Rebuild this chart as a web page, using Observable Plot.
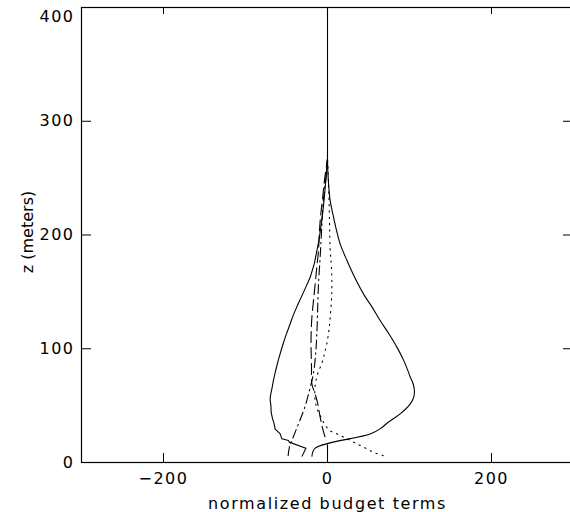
<!DOCTYPE html>
<html><head><meta charset="utf-8">
<script src="https://cdn.jsdelivr.net/npm/d3@7"></script>
<script src="https://cdn.jsdelivr.net/npm/@observablehq/plot@0.6"></script>
<style>
html,body{margin:0;padding:0;overflow:hidden;background:#fff;}
g[aria-label="y-axis tick label"] text, g[aria-label="x-axis tick label"] text{letter-spacing:1.5px;}
</style></head><body><div id="chart"></div>
<script>
// tick values
const xTicks = [-200, 0, 200];
const yTicks = [0, 100, 200, 300, 400];
const yTickLabelsLow = [0, 100, 200, 300];
const yTickLabelTop = [400];
const xTitle = "normalized budget terms";
const yTitle = "z (meters)";

// solid curve, negative lobe (continues along zero to the top)
const zSolidL = [5.6, 12.6, 17.9, 19.3, 20.8, 25.2, 29.6, 34, 38.4, 44, 50, 55, 59, 66, 72, 80, 90, 100, 110, 120, 130, 140, 150, 163, 175, 195, 210, 225, 240, 255, 267, 400];
const xSolidL = [-31, -26.3, -46.7, -47.6, -55.6, -57.7, -64, -65, -67, -68.7, -69, -70, -69.5, -67.5, -66, -63.5, -60, -56, -51.6, -46.5, -41.5, -35.5, -29, -21, -16, -10.5, -7.5, -5, -3, -1.2, 0, 0];

// solid curve, positive lobe
const zSolidR = [5.5, 12.6, 25, 30, 35.4, 43, 51.6, 57, 63, 69, 75, 88, 101, 113, 125, 137, 148, 163, 178, 192, 204, 217, 230, 248, 267];
const xSolidR = [-19, -15, 52, 65, 74, 89, 101, 105, 106, 104.5, 101, 94, 85, 75, 64, 54, 44, 33, 23.5, 15.5, 11, 7, 3.3, 1, 0];

// long-dashed curve
const zDash = [22.6, 30, 40, 52, 60, 69, 84, 98.5, 113, 128, 143, 157, 172, 186, 201, 216, 232, 248, 267];
const xDash = [-3, -6, -9, -12, -15, -19, -19.5, -20, -20, -19, -17, -15, -13, -11, -10, -8.5, -6, -3.7, 0];

// dash-dot curve
const zDashDot = [6, 15, 22, 31, 42, 50, 58, 66, 75, 84, 100, 113, 135, 157, 180, 200, 230, 257, 267];
const xDashDot = [-48, -46, -42, -37, -31, -27, -24, -21, -18, -16, -14, -13, -12, -11, -9, -7.5, -5, -1, 0];

// dotted curve
const zDot = [6, 9, 13.5, 17, 21, 25, 28, 33, 40, 46, 52, 60, 68, 78, 87, 95, 104, 115, 128, 145, 157, 175, 186, 210, 245, 267];
const xDot = [68, 56, 44, 34, 23.6, 12, 3, -3, -8, -12, -14.5, -15.5, -15, -12, -7, -4, -1, 1.5, 3.3, 5, 5.4, 4.5, 3.3, 2.5, 1.3, 0];

// near-surface zero segment
const zZero = [0, 15.5];
const xZero = [0, 0];

const pts = (xs, zs) => zs.map((z, i) => ({x: xs[i], z}));

const lineOpts = {x: "x", y: "z", stroke: "#000", strokeWidth: 1.1};

const chart = Plot.plot({
  width: 574, height: 512,
  marginLeft: 81, marginRight: 1, marginTop: 7, marginBottom: 50,
  style: {fontFamily: "DejaVu Sans", background: "#fff", color: "#000", maxWidth: "none"},
  x: {domain: [-300, 300], axis: null},
  y: {domain: [0, 400], axis: null},
  marks: [
    Plot.line(pts(xSolidL, zSolidL), {...lineOpts, curve: "linear"}),
    Plot.line(pts(xSolidR, zSolidR), {...lineOpts, curve: "catmull-rom"}),
    Plot.line(pts(xDash, zDash), {...lineOpts, curve: "catmull-rom", strokeDasharray: "11,5"}),
    Plot.line(pts(xDashDot, zDashDot), {...lineOpts, curve: "catmull-rom", strokeDasharray: "9,4,1.5,4"}),
    Plot.line(pts(xDot, zDot), {...lineOpts, curve: "catmull-rom", strokeDasharray: "1.3,5"}),
    Plot.line(pts(xZero, zZero), {...lineOpts}),
    Plot.frame({stroke: "#000", strokeWidth: 1.2}),
    Plot.tickY(yTicks, {y: d => d, insetRight: 482, stroke: "#000"}),
    Plot.tickY(yTicks, {y: d => d, insetLeft: 482, stroke: "#000"}),
    Plot.tickX(xTicks, {x: d => d, insetTop: 446, stroke: "#000"}),
    Plot.tickX(xTicks, {x: d => d, insetBottom: 448, stroke: "#000"}),
    Plot.axisY(yTickLabelsLow, {anchor: "left", tickSize: 0, tickPadding: 7, fontSize: 16, label: null}),
    Plot.axisY(yTickLabelTop, {anchor: "left", tickSize: 0, tickPadding: 7, fontSize: 16, label: null, dy: 9}),
    Plot.axisX(xTicks, {anchor: "bottom", tickSize: 0, tickPadding: 10, fontSize: 16, label: null}),
    Plot.text([xTitle], {frameAnchor: "bottom", dy: 35, lineAnchor: "top", fontSize: 16, text: d => d, fill: "#000"}),
    Plot.text([yTitle], {frameAnchor: "left", dx: -54, dy: -3, rotate: -90, textAnchor: "middle", lineAnchor: "middle", fontSize: 16, text: d => d, fill: "#000"})
  ]
});
document.getElementById("chart").appendChild(chart);
// letter spacing for the titles
d3.select(chart).selectAll('g[aria-label="text"] text').each(function() {
  const t = this.textContent;
  this.setAttribute("letter-spacing", t === xTitle ? "1.6px" : "0px");
});
</script>
</body></html>
